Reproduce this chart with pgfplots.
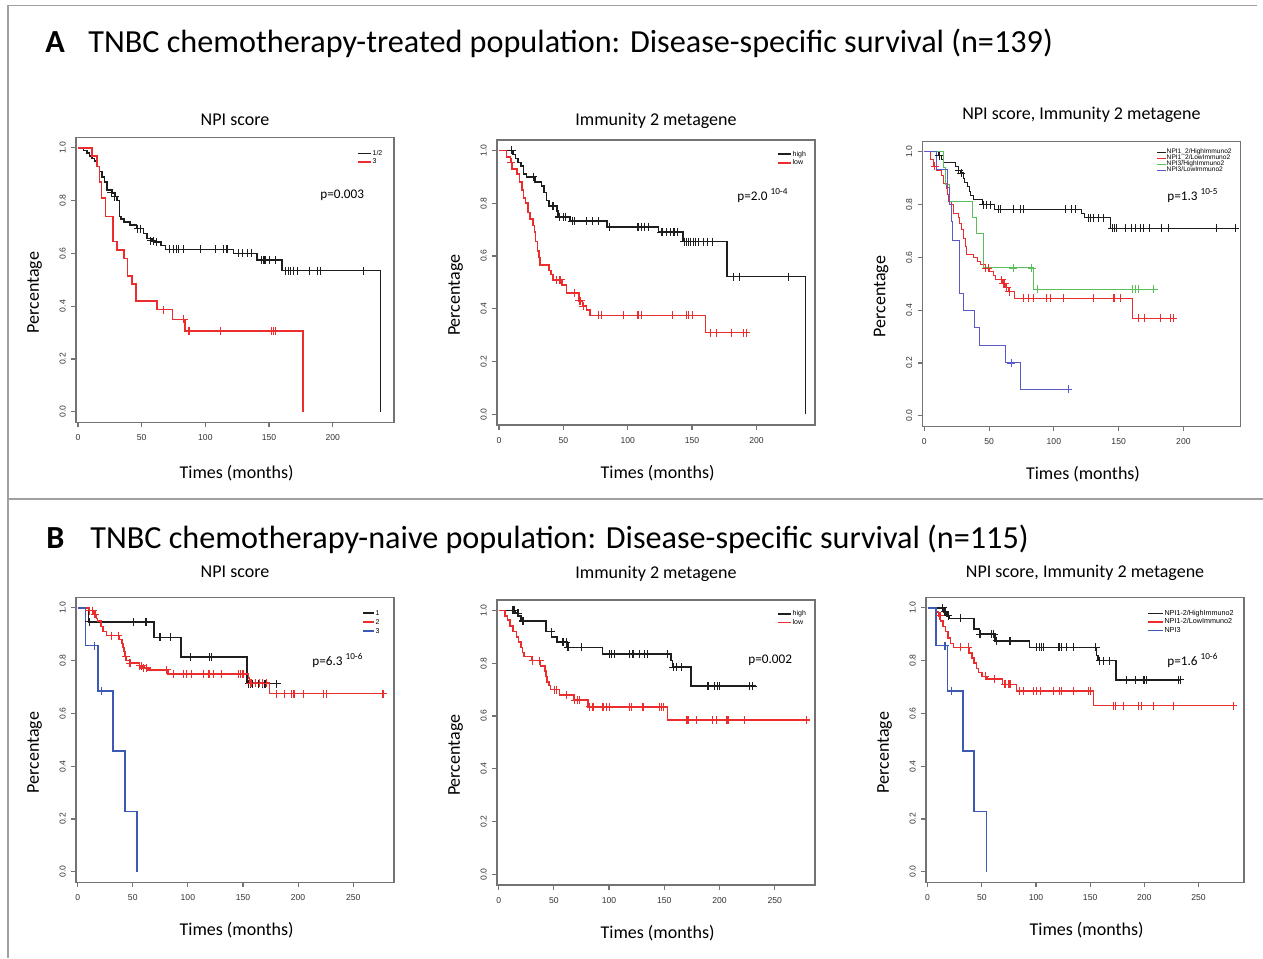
\documentclass[border=0pt]{standalone}
\usepackage{fontspec}
\setmainfont{Carlito}
\newfontfamily\hv{Liberation Sans}
\usepackage{pgfplots}
\pgfplotsset{compat=1.18}
\definecolor{kmblack}{RGB}{30,30,30}
\definecolor{kmred}{RGB}{235,45,45}
\definecolor{kmgreen}{RGB}{90,190,90}
\definecolor{kmblueA}{RGB}{90,90,200}
\definecolor{kmblueB}{RGB}{60,90,180}
\definecolor{frame}{RGB}{160,160,160}
\pgfplotsset{
 every axis title shift=0pt,
 km/.style={scale only axis, width=159pt, height=142.5pt, anchor=south west,
  ymin=-0.04, ymax=1.04,
  axis line style={draw=black!55, line width=0.6pt},
  tick pos=left, tick align=outside, major tick length=2.4pt,
  tick style={draw=black!55, line width=0.6pt},
  ytick={0,0.2,0.4,0.6,0.8,1}, yticklabels={0.0,0.2,0.4,0.6,0.8,1.0},
  ticklabel style={font=\hv\fontsize{4.3}{5}\selectfont, text=black!80, inner sep=0pt},
  yticklabel style={rotate=90, anchor=south},
  xticklabel style={anchor=north},
  xticklabel shift=3.5pt, yticklabel shift=2.5pt,
  xlabel={Times (months)}, ylabel={Percentage},
  label style={font=\fontsize{9}{10}\selectfont},
  xlabel style={at={(axis description cs:0.505,-0.187)}, anchor=base},
  ylabel style={at={(axis description cs:-0.13,0.455)}, anchor=center},
  title style={font=\fontsize{9}{10}\selectfont, anchor=base},
  legend cell align=left,
  legend style={draw=none, fill=none, anchor=north west, inner sep=0pt, row sep=0pt,
    font=\hv\fontsize{3.5}{4}\selectfont,
    nodes={inner sep=0.25pt, text height=2.8pt, text depth=1pt},
    /tikz/every even column/.append style={column sep=2.5pt}},
  legend image code/.code={\draw[##1] (0pt,0pt) -- (6.5pt,0pt);},
 },
 kmA/.style={km, xtick={0,50,100,150,200}, xticklabels={0,50,100,150,200}, xmin=-1.5},
 kmB/.style={km, xtick={0,50,100,150,200,250}, xticklabels={0,50,100,150,200,250}, xmin=-1.5},
 ln/.style={const plot, line width=0.8pt, #1},
 cm/.style={only marks, mark=+, mark size=2pt, mark options={line width=0.55pt}, #1, forget plot},
}
\begin{document}
\begin{tikzpicture}
\useasboundingbox (0,0) rectangle (631.5pt,-479pt);
\draw[frame, line width=0.75pt] (628.5pt,-2.75pt) -- (4pt,-2.75pt) -- (4pt,-479pt);
\draw[frame, line width=0.75pt] (4pt,-249.5pt) -- (631.5pt,-249.5pt);
\node[anchor=base west, inner sep=0pt, font=\fontsize{16.1}{18}\selectfont\bfseries] at (22.5pt,-26pt) {A};
\node[anchor=base west, inner sep=0pt, font=\fontsize{16.1}{18}\selectfont] at (44pt,-26pt) {TNBC chemotherapy-treated population: Disease-specific survival (n=139)};
\node[anchor=base west, inner sep=0pt, font=\fontsize{16.1}{18}\selectfont\bfseries] at (23pt,-274pt) {B};
\node[anchor=base west, inner sep=0pt, font=\fontsize{16.1}{18}\selectfont] at (45pt,-274pt) {TNBC chemotherapy-naive population: Disease-specific survival (n=115)};

% ---------------- A1
\begin{axis}[kmA, at={(38pt,-211.15pt)}, xmax=248, title={NPI score},
  title style={at={(axis description cs:0.5,1.043)}},
  xlabel style={at={(axis description cs:0.505,-0.198)}},
  legend style={at={(0.884,0.960)}}]
\addplot[ln=kmblack] coordinates {(0,1) (4.5,0.99) (7,0.98) (9,0.97) (11,0.96) (13,0.95) (15,0.93) (17,0.91) (19,0.89) (21,0.87) (23,0.84) (27,0.83) (29,0.815) (30.6,0.80) (32.5,0.74) (34,0.73) (36,0.72) (41,0.707) (46,0.694) (51.6,0.675) (54,0.656) (58,0.648) (61,0.643) (65,0.63) (68.6,0.615) (122,0.60) (140.6,0.575) (160,0.535) (237.4,0)};
\addlegendentry{1/2}
\addplot[ln=kmred] coordinates {(0,1) (11,0.97) (15,0.93) (17,0.87) (18.5,0.81) (21.5,0.74) (27.5,0.645) (30.5,0.612) (36,0.58) (39,0.515) (42.4,0.484) (45.5,0.42) (62,0.387) (74.3,0.35) (83.8,0.305) (176.7,0)};
\addlegendentry{3}
\addplot[cm=kmblack] coordinates {(26,0.83) (29,0.815) (47,0.694) (49,0.694) (57,0.648) (59,0.648) (62,0.643) (72,0.615) (75,0.615) (77,0.615) (79,0.615) (83,0.615) (96,0.615) (108,0.615) (114,0.615) (117,0.615) (126,0.60) (129,0.60) (133,0.60) (136,0.60) (144,0.575) (146,0.575) (147,0.575) (150,0.575) (155,0.575) (163,0.535) (165,0.535) (167,0.535) (169,0.535) (172,0.535) (182,0.535) (188,0.535) (190,0.535) (224,0.535)};
\addplot[cm=kmred] coordinates {(67,0.387) (83,0.35) (86.5,0.305) (87.5,0.305) (112,0.305) (152,0.305) (153.5,0.305) (155,0.305)};
\end{axis}
\node[anchor=base west, inner sep=0pt, font=\fontsize{6.6}{8}\selectfont] at (160pt,-99pt) {p=0.003};

% ---------------- A2
\begin{axis}[kmA, at={(248.5pt,-212.45pt)}, xmax=245.5, title={Immunity 2 metagene},
  title style={at={(axis description cs:0.5,1.052)}},
  legend style={at={(0.881,0.966)}}]
\addplot[ln=kmblack] coordinates {(0,1) (11,0.985) (13,0.97) (15,0.955) (17,0.94) (19,0.91) (21.5,0.90) (28,0.88) (33,0.865) (35,0.84) (37,0.81) (39,0.79) (45,0.77) (46,0.748) (55,0.732) (84,0.711) (124,0.69) (143,0.655) (177,0.522) (238,0)};
\addlegendentry{high}
\addplot[ln=kmred] coordinates {(0,1) (6,0.975) (9,0.955) (10,0.93) (14,0.91) (16,0.88) (18,0.85) (19,0.82) (20.5,0.80) (22.5,0.765) (24,0.74) (26.5,0.715) (27.5,0.69) (28.5,0.655) (30,0.62) (31,0.595) (32,0.566) (39,0.545) (40.5,0.53) (42,0.51) (49,0.49) (52.5,0.46) (62,0.43) (65,0.41) (68,0.395) (70.5,0.375) (160.5,0.31) (192,0.31)};
\addlegendentry{low}
\addplot[cm=kmblack] coordinates {(10,1) (26.6,0.90) (42,0.79) (47,0.748) (50,0.748) (52,0.748) (57,0.732) (58.5,0.732) (68,0.732) (73,0.732) (77,0.732) (86,0.711) (108,0.711) (111,0.711) (113,0.711) (116,0.711) (126,0.69) (127,0.69) (130,0.69) (133,0.69) (136,0.69) (139,0.69) (144,0.655) (145.5,0.655) (147,0.655) (148.5,0.655) (151,0.655) (153,0.655) (155,0.655) (159,0.655) (162,0.655) (166,0.655) (182,0.522) (187,0.522) (224.6,0.522)};
\addplot[cm=kmred] coordinates {(9.5,0.955) (45,0.51) (47,0.51) (48,0.51) (59,0.46) (62.5,0.43) (63.5,0.43) (65.5,0.41) (77,0.375) (80,0.375) (96.5,0.375) (108,0.375) (111,0.375) (135,0.375) (146,0.375) (147,0.375) (150,0.375) (164,0.31) (169,0.31) (180.6,0.31) (190,0.31) (192,0.31)};
\end{axis}
\node[anchor=base west, inner sep=0pt, font=\fontsize{6.6}{8}\selectfont] at (368.5pt,-100pt) {p=2.0 \raisebox{2.6pt}{\fontsize{4.6}{5}\selectfont 10-4}};

% ---------------- A3
\begin{axis}[kmA, at={(461.2pt,-213.15pt)}, xmax=244, title={NPI score, Immunity 2 metagene},
  title style={at={(axis description cs:0.5,1.075)}},
  legend image code/.code={\draw[#1] (0pt,0pt) -- (4.5pt,0pt);},
  legend style={at={(0.735,0.974)}, font=\hv\fontsize{3.3}{3.6}\selectfont,
    nodes={inner sep=0.1pt, text height=2.2pt, text depth=0.6pt},
    /tikz/every even column/.append style={column sep=1.5pt}},
  ln/.style={const plot, line width=0.5pt, #1}]
\addplot[ln=kmblack] coordinates {(0,1) (11,0.985) (13,0.97) (15,0.96) (24,0.945) (26,0.93) (28,0.92) (30,0.90) (31,0.885) (33,0.87) (34.5,0.85) (36,0.835) (38,0.82) (45,0.80) (54.5,0.783) (121.5,0.765) (124,0.75) (143.5,0.71) (240,0.71)};
\addlegendentry{NPI1\_2/HighImmuno2}
\addplot[ln=kmred] coordinates {(0,1) (5,0.97) (7,0.945) (9,0.93) (13.5,0.91) (15,0.88) (17,0.86) (18,0.84) (19,0.81) (21,0.80) (22.5,0.765) (26,0.75) (27,0.73) (28.5,0.705) (30,0.67) (31.5,0.64) (32.5,0.61) (38,0.60) (41,0.585) (43,0.575) (47,0.56) (50,0.545) (53,0.53) (55,0.515) (60,0.50) (63,0.485) (65,0.47) (69.5,0.445) (161,0.37) (192,0.37)};
\addlegendentry{NPI1\_2/LowImmuno2}
\addplot[ln=kmgreen] coordinates {(0,1) (14.5,0.94) (16.5,0.875) (19.5,0.81) (37,0.75) (40,0.69) (46,0.56) (84,0.48) (177,0.48)};
\addlegendentry{NPI3/HighImmuno2}
\addplot[ln=kmblueA] coordinates {(0,1) (9.5,0.935) (18,0.865) (19.5,0.80) (21,0.735) (22,0.665) (27.5,0.465) (30,0.40) (39,0.335) (42.5,0.265) (62.5,0.20) (74.5,0.10) (112,0.10)};
\addlegendentry{NPI3/LowImmuno2}
\addplot[cm=kmblack, mark options={line width=0.45pt}] coordinates {(11.6,0.985) (26.5,0.93) (28.5,0.92) (45.5,0.80) (48,0.80) (50.7,0.80) (57,0.783) (58.4,0.783) (68.7,0.783) (74,0.783) (76.5,0.783) (108.6,0.783) (113.8,0.783) (116.3,0.783) (126.6,0.75) (128,0.75) (130.5,0.75) (134.4,0.75) (138,0.75) (145,0.71) (146.5,0.71) (148.5,0.71) (155,0.71) (160,0.71) (162.7,0.71) (166.5,0.71) (169,0.71) (174,0.71) (183,0.71) (188.4,0.71) (225.7,0.71) (240,0.71)};
\addplot[cm=kmred, mark options={line width=0.45pt}] coordinates {(8,0.945) (47.5,0.56) (49.4,0.56) (59.7,0.515) (61,0.50) (62,0.50) (63.6,0.485) (65.5,0.47) (76.5,0.445) (80.3,0.445) (84,0.445) (94.5,0.445) (97,0.445) (107,0.445) (130.5,0.445) (146,0.445) (147,0.445) (151,0.445) (165,0.37) (170,0.37) (182,0.37) (189.7,0.37) (192,0.37)};
\addplot[cm=kmgreen, mark options={line width=0.45pt}] coordinates {(68.7,0.56) (83,0.56) (87,0.48) (161,0.48) (162.7,0.48) (165,0.48) (177,0.48)};
\addplot[cm=kmblueA, mark options={line width=0.45pt}] coordinates {(67,0.20) (111,0.10)};
\end{axis}
\node[anchor=base west, inner sep=0pt, font=\fontsize{6.6}{8}\selectfont] at (583.5pt,-100pt) {p=1.3 \raisebox{2.6pt}{\fontsize{4.6}{5}\selectfont 10-5}};

% ---------------- B1
\begin{axis}[kmB, at={(38pt,-441.15pt)}, xmax=287, title={NPI score},
  title style={at={(axis description cs:0.5,1.068)}},
  legend image code/.code={\draw[#1] (0pt,0pt) -- (5.5pt,0pt);},
  legend style={at={(0.90,0.962)}, nodes={inner sep=0.25pt, text height=3pt, text depth=1pt}}]
\addplot[ln=kmblack] coordinates {(0,1) (10,0.947) (69,0.888) (93.5,0.813) (153.5,0.713) (181,0.713)};
\addlegendentry{1}
\addplot[ln=kmred] coordinates {(0,1) (10,0.99) (15,0.975) (17,0.96) (18,0.95) (21,0.93) (23,0.91) (26,0.895) (38,0.88) (40,0.865) (41,0.85) (42,0.835) (43,0.815) (44,0.80) (47,0.79) (56,0.78) (60,0.772) (64,0.765) (82,0.75) (155,0.735) (156,0.715) (174,0.675) (281,0.675)};
\addlegendentry{2}
\addplot[ln=kmblueB] coordinates {(0,1) (7,0.857) (18.5,0.686) (32,0.457) (43,0.229) (54,0)};
\addlegendentry{3}
\addplot[cm=kmblack] coordinates {(10.6,0.947) (50.5,0.947) (62,0.947) (74,0.888) (75,0.888) (84,0.888) (102,0.813) (120,0.813) (121.5,0.813) (155,0.713) (157,0.713) (159,0.713) (164,0.713) (168,0.713) (170,0.713) (180.5,0.713)};
\addplot[cm=kmred] coordinates {(10.5,0.99) (13.6,0.99) (15.7,0.975) (31,0.895) (37,0.895) (43.5,0.815) (47.5,0.79) (56.5,0.78) (58,0.78) (60,0.772) (62.6,0.772) (80.7,0.765) (86.8,0.75) (95.8,0.75) (98.8,0.75) (103,0.75) (114,0.75) (118.5,0.75) (120,0.75) (123,0.75) (130.6,0.75) (145.7,0.75) (148,0.75) (150,0.75) (156.5,0.715) (158,0.715) (161,0.715) (165,0.715) (168,0.715) (171,0.715) (180.5,0.675) (188,0.675) (194,0.675) (195.5,0.675) (197,0.675) (204.6,0.675) (222.8,0.675) (225.8,0.675) (277,0.675)};
\addplot[cm=kmblueB] coordinates {(15,0.857) (21.8,0.686)};
\end{axis}
\node[anchor=base west, inner sep=0pt, font=\fontsize{6.6}{8}\selectfont] at (156pt,-332.5pt) {p=6.3 \raisebox{2.6pt}{\fontsize{4.6}{5}\selectfont 10-6}};

% ---------------- B2
\begin{axis}[kmB, at={(248.5pt,-442.45pt)}, xmax=286.5, title={Immunity 2 metagene},
  title style={at={(axis description cs:0.5,1.076)}},
  legend style={at={(0.881,0.968)}}]
\addplot[ln=kmblack] coordinates {(0,1) (15,0.99) (17,0.98) (20,0.96) (43,0.92) (48,0.90) (53,0.88) (62,0.86) (94,0.835) (156,0.81) (157.5,0.785) (174,0.713) (233,0.713)};
\addlegendentry{high}
\addplot[ln=kmred] coordinates {(0,1) (6,0.98) (8,0.965) (10,0.94) (13,0.92) (16,0.90) (18,0.88) (20,0.86) (21.5,0.84) (23,0.825) (30,0.81) (38,0.79) (42,0.77) (43,0.75) (44,0.73) (45.5,0.715) (47,0.70) (55,0.68) (68,0.66) (81,0.635) (153,0.585) (280,0.585)};
\addlegendentry{low}
\addplot[cm=kmblack] coordinates {(13,1) (14.5,1) (17.5,0.99) (22,0.96) (47.7,0.92) (58.3,0.88) (61.3,0.88) (62.8,0.86) (75,0.86) (100,0.835) (102,0.835) (105,0.835) (118.7,0.835) (121.7,0.835) (127.7,0.835) (132,0.835) (135,0.835) (153,0.835) (158,0.785) (161,0.785) (165.5,0.785) (189.6,0.713) (195.6,0.713) (198,0.713) (200,0.713) (227,0.713) (230,0.713)};
\addplot[cm=kmred] coordinates {(31,0.81) (37,0.81) (50.7,0.70) (52,0.70) (61.3,0.68) (68.8,0.66) (71,0.66) (73.4,0.66) (82.4,0.635) (85.4,0.635) (94.5,0.635) (97.5,0.635) (100.5,0.635) (118.7,0.635) (120,0.635) (130.7,0.635) (145.8,0.635) (147.5,0.635) (149,0.635) (170,0.585) (171.5,0.585) (179,0.585) (194,0.585) (197,0.585) (206,0.585) (207.7,0.585) (222.8,0.585) (278.7,0.585)};
\end{axis}
\node[anchor=base west, inner sep=0pt, font=\fontsize{6.6}{8}\selectfont] at (374pt,-331.5pt) {p=0.002};

% ---------------- B3
\begin{axis}[kmB, at={(463pt,-441.15pt)}, xmax=292, title={NPI score, Immunity 2 metagene},
  title style={at={(axis description cs:0.5,1.068)}},
  legend image code/.code={\draw[#1] (0pt,0pt) -- (7.5pt,0pt);},
  legend style={at={(0.695,0.960)}, font=\hv\fontsize{3.6}{4}\selectfont,
    /tikz/every even column/.append style={column sep=1.5pt}}]
\addplot[ln=kmblack] coordinates {(0,1) (15,0.985) (18,0.97) (20,0.96) (43,0.92) (48,0.90) (62,0.875) (94,0.85) (156,0.82) (157.5,0.80) (174,0.727) (233,0.727)};
\addlegendentry{NPI1-2/HighImmuno2}
\addplot[ln=kmred] coordinates {(0,1) (8,0.985) (10,0.97) (12,0.95) (14,0.93) (16.5,0.91) (19,0.885) (21,0.865) (24,0.85) (38,0.83) (41,0.81) (43,0.79) (45,0.77) (47,0.755) (50,0.74) (55,0.73) (69,0.71) (82,0.685) (153,0.63) (282,0.63)};
\addlegendentry{NPI1-2/LowImmuno2}
\addplot[ln=kmblueB] coordinates {(0,1) (7.5,0.857) (18.5,0.686) (32.5,0.457) (43,0.229) (54.5,0)};
\addlegendentry{NPI3}
\addplot[cm=kmblack] coordinates {(13.9,1) (16,0.985) (19,0.97) (30,0.96) (48.3,0.90) (59,0.90) (61,0.90) (63.7,0.875) (76,0.875) (100.7,0.85) (103,0.85) (105,0.85) (107,0.85) (120.7,0.85) (122,0.85) (123.8,0.85) (128,0.85) (134.5,0.85) (155,0.85) (159,0.80) (162,0.80) (168,0.80) (183.8,0.727) (191.5,0.727) (199,0.727) (200.5,0.727) (202,0.727) (231.5,0.727) (233,0.727)};
\addplot[cm=kmred] coordinates {(11.4,0.97) (30,0.85) (37.6,0.85) (53,0.74) (62,0.73) (71.4,0.71) (74.5,0.71) (76,0.71) (85,0.685) (88.4,0.685) (97.6,0.685) (100.7,0.685) (103.8,0.685) (116,0.685) (122,0.685) (123.8,0.685) (134.5,0.685) (148.4,0.685) (150,0.685) (171.5,0.63) (173,0.63) (180.7,0.63) (194.6,0.63) (197.7,0.63) (208.4,0.63) (227,0.63) (282,0.63)};
\addplot[cm=kmblueB] coordinates {(16,0.857) (22,0.686)};
\end{axis}
\node[anchor=base west, inner sep=0pt, font=\fontsize{6.6}{8}\selectfont] at (583.5pt,-332.5pt) {p=1.6 \raisebox{2.6pt}{\fontsize{4.6}{5}\selectfont 10-6}};
\end{tikzpicture}
\end{document}
